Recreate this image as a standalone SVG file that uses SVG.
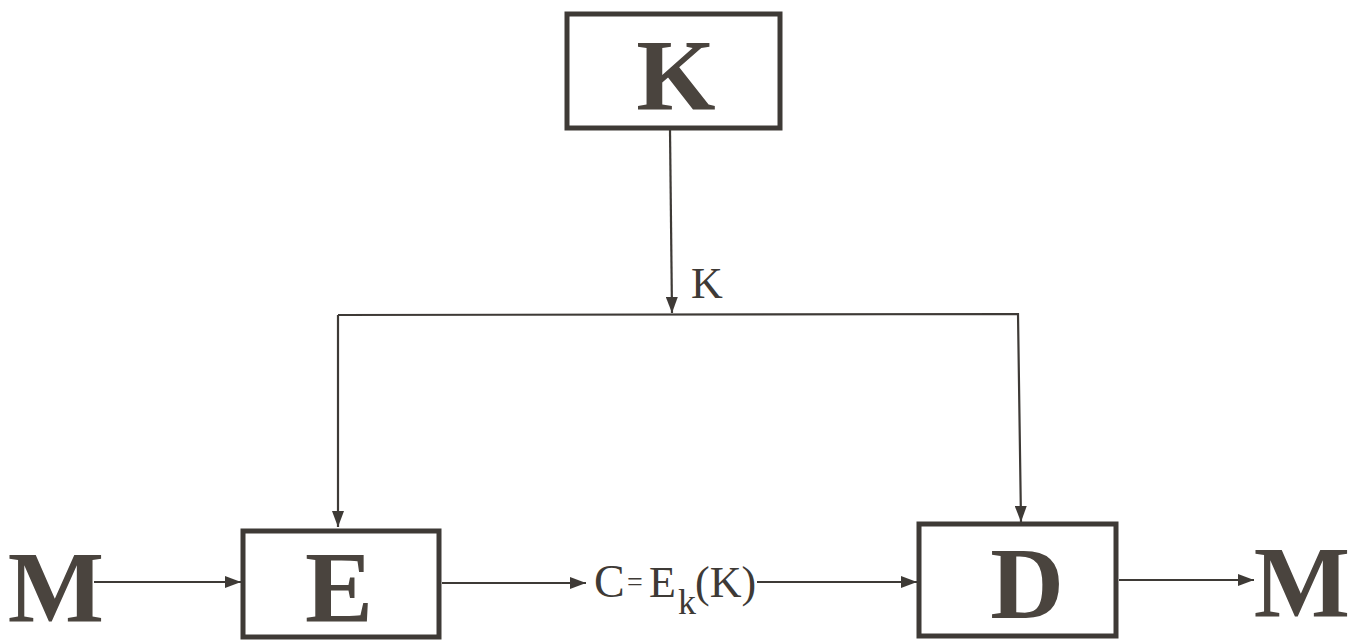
<svg xmlns="http://www.w3.org/2000/svg" width="1361" height="642" viewBox="0 0 1361 642">
<style>
.box{fill:#ffffff;stroke:#3e3a36;stroke-width:5}
.big{font-family:"Liberation Serif","Times New Roman",serif;font-size:102px;font-weight:bold;fill:#4a443e;text-anchor:middle}
.lbl{font-family:"Liberation Serif","Times New Roman",serif;fill:#3e3a36}
.ln{stroke:#3e3a36;stroke-width:2.2;fill:none}
</style>
<defs>
<marker id="ah" viewBox="0 0 16 12" refX="16" refY="6" markerWidth="16" markerHeight="12" markerUnits="userSpaceOnUse" orient="auto">
<path d="M0,0 L16,6 L0,12 Z" fill="#3e3a36"/>
</marker>
</defs>
<rect width="1361" height="642" fill="#ffffff"/>
<g id="connectors">
<line class="ln" x1="670" y1="130" x2="672" y2="313" marker-end="url(#ah)"/>
<path class="ln" d="M338,315 L1018,314 L1021,522" marker-end="url(#ah)"/>
<path class="ln" d="M338,315 L338,527" marker-end="url(#ah)"/>
<line class="ln" x1="94" y1="582" x2="241" y2="582" marker-end="url(#ah)"/>
<line class="ln" x1="442" y1="583" x2="586" y2="583" marker-end="url(#ah)"/>
<line class="ln" x1="757" y1="582" x2="917" y2="582" marker-end="url(#ah)"/>
<line class="ln" x1="1119" y1="580" x2="1254" y2="580" marker-end="url(#ah)"/>
<text class="lbl" x="691" y="298" font-size="44">K</text>
<text class="lbl" y="597" font-size="46" fill="#4a443e"><tspan x="594">C</tspan><tspan x="627" y="591" font-size="28">=</tspan><tspan x="649" y="597" font-size="44">E</tspan><tspan x="678" y="614" font-size="36">k</tspan><tspan x="695" y="597" font-size="44">(K)</tspan></text>
</g>
<g id="node-K">
<rect class="box" x="567" y="14" width="213" height="114"/>
<text class="big" x="676" y="110">K</text>
</g>
<g id="node-E">
<rect class="box" x="243" y="531" width="196" height="106"/>
<text class="big" x="339" y="622">E</text>
</g>
<g id="node-D">
<rect class="box" x="919" y="524" width="197" height="112"/>
<text class="big" x="1027" y="618">D</text>
</g>
<g id="node-M-in">
<text class="big" x="56" y="622">M</text>
</g>
<g id="node-M-out">
<text class="big" x="1302" y="617">M</text>
</g>
</svg>
